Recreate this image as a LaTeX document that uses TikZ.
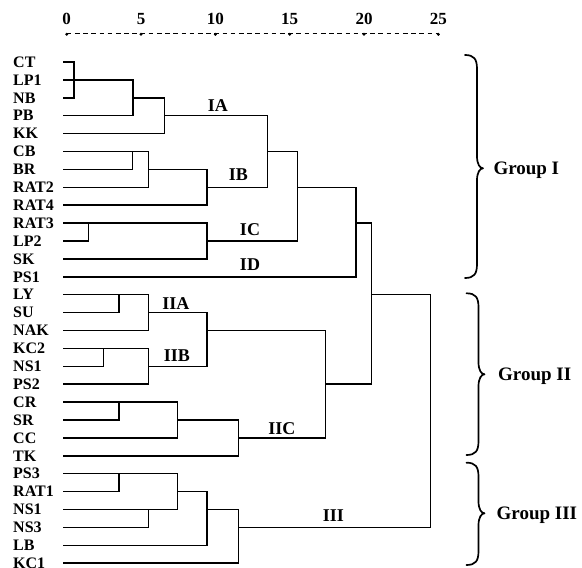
\documentclass[tikz,border=0pt]{standalone}
\usepackage{fontspec}
\setmainfont{Liberation Serif}[BoldFont={Liberation Serif Bold}]
\newcommand\rowy[1]{62+17.9*#1}
\begin{document}
\begin{tikzpicture}[x=1pt,y=-1pt,
  dend/.style={line width=1.5pt},
  leaf/.style={anchor=west,inner sep=0pt,font=\bfseries\fontsize{16}{16}\selectfont},
  axnum/.style={anchor=center,inner sep=0pt,font=\bfseries\fontsize{17}{17}\selectfont},
  clus/.style={anchor=center,inner sep=0pt,font=\bfseries\fontsize{18}{18}\selectfont},
  grp/.style={anchor=base west,inner sep=0pt,font=\bfseries\fontsize{19}{19}\selectfont},
  bracestyle/.style={line width=1.7pt,line cap=round,line join=round}]
\useasboundingbox (0,0) rectangle (582,568);

% axis
\draw[line width=1.5pt,dash pattern=on 4.6pt off 3.6pt] (66.7,33.3) -- (438.3,33.3);
\foreach \v [count=\k from 0] in {0,5,10,15,20,25}{
  \fill (66.7+74.33*\k,34.3) circle (1.6);
  \node[axnum] (ax\k) at (66.7+74.33*\k,19) {\v};
}

% leaves
\foreach \n [count=\i from 0] in {CT,LP1,NB,PB,KK,CB,BR,RAT2,RAT4,RAT3,LP2,SK,PS1,LY,SU,NAK,KC2,NS1,PS2,CR,SR,CC,TK,PS3,RAT1,NS1,NS3,LB,KC1}{
  \node[leaf] (leaf\i) at (13,\rowy{\i}) {\n};
}

% Group I
\draw[dend] (63,\rowy{0}) -| (74,\rowy{2}) -- (63,\rowy{2});
\draw[dend] (63,\rowy{1}) -| (133,\rowy{3}) -- (63,\rowy{3});
\draw[dend] (133,\rowy{2}) -| (164.3,\rowy{4}) -- (63,\rowy{4});
\draw[dend] (164.3,\rowy{3}) -| (267.7,\rowy{7}) -- (207,\rowy{7});
\draw[dend] (63,\rowy{5}) -| (132.7,\rowy{6}) -- (63,\rowy{6});
\draw[dend] (132.7,\rowy{5}) -| (148.3,\rowy{7}) -- (63,\rowy{7});
\draw[dend] (148.3,\rowy{6}) -| (207,\rowy{8}) -- (63,\rowy{8});
\draw[dend] (267.7,\rowy{5}) -| (297.3,\rowy{10}) -- (207,\rowy{10});
\draw[dend] (63,\rowy{9}) -| (88.3,\rowy{10}) -- (63,\rowy{10});
\draw[dend] (88.3,\rowy{9}) -| (207,\rowy{11}) -- (63,\rowy{11});
\draw[dend] (297.3,\rowy{7}) -| (356,\rowy{12}) -- (63,\rowy{12});
\draw[dend] (356,\rowy{9}) -| (371.7,\rowy{18}) -- (325.7,\rowy{18});
\draw[dend] (371.7,\rowy{13}) -| (430.7,\rowy{26}) -- (238.3,\rowy{26});

% Group II
\draw[dend] (63,\rowy{13}) -| (119,\rowy{14}) -- (63,\rowy{14});
\draw[dend] (119,\rowy{13}) -| (148.3,\rowy{15}) -- (63,\rowy{15});
\draw[dend] (63,\rowy{16}) -| (103.3,\rowy{17}) -- (63,\rowy{17});
\draw[dend] (103.3,\rowy{16}) -| (148.3,\rowy{18}) -- (63,\rowy{18});
\draw[dend] (148.3,\rowy{14}) -| (207,\rowy{17}) -- (148.3,\rowy{17});
\draw[dend] (207,\rowy{15}) -| (325.7,\rowy{21}) -- (238.3,\rowy{21});
\draw[dend] (63,\rowy{19}) -| (119,\rowy{20}) -- (63,\rowy{20});
\draw[dend] (119,\rowy{19}) -| (177.3,\rowy{21}) -- (63,\rowy{21});
\draw[dend] (177.3,\rowy{20}) -| (238.3,\rowy{22}) -- (63,\rowy{22});

% Group III
\draw[dend] (63,\rowy{23}) -| (119,\rowy{24}) -- (63,\rowy{24});
\draw[dend] (63,\rowy{25}) -| (148.3,\rowy{26}) -- (63,\rowy{26});
\draw[dend] (119,\rowy{23}) -| (177.3,\rowy{25}) -- (148.3,\rowy{25});
\draw[dend] (177.3,\rowy{24}) -| (207,\rowy{27}) -- (63,\rowy{27});
\draw[dend] (207,\rowy{25}) -| (238.3,\rowy{28}) -- (63,\rowy{28});

% cluster labels
\node[clus] (lIA) at (217.8,105.3) {IA};
\node[clus] (lIB) at (238.3,174.5) {IB};
\node[clus] (lIC) at (250,229.7) {IC};
\node[clus] (lID) at (250,264.5) {ID};
\node[clus] (lIIA) at (175.8,303.7) {IIA};
\node[clus] (lIIB) at (177,355.5) {IIB};
\node[clus] (lIIC) at (281.8,428.3) {IIC};
\node[clus] (lIII) at (333.3,515.3) {III};

% braces
\newcommand\grpbrace[4]{%
  \draw[bracestyle] (#1,#2) .. controls (#1+9,#2) and (#1+12,#2+4) .. (#1+12,#2+14)
    -- (#1+12,#3-12) .. controls (#1+12,#3-4) and (#1+15,#3) .. (#1+18,#3)
    .. controls (#1+15,#3) and (#1+12,#3+4) .. (#1+12,#3+12)
    -- (#1+12,#4-14) .. controls (#1+12,#4-4) and (#1+9,#4) .. (#1,#4);}
\grpbrace{465}{55}{168.3}{278}
\grpbrace{466.5}{293.3}{374.3}{455}
\grpbrace{466.5}{462.7}{513.3}{565}

\node[grp] (g1) at (493.3,168.3+6.3) {Group I};
\node[grp] (g2) at (498,374.3+6.3) {Group II};
\node[grp] (g3) at (496.5,513.3+6.3) {Group III};
\end{tikzpicture}
\end{document}
